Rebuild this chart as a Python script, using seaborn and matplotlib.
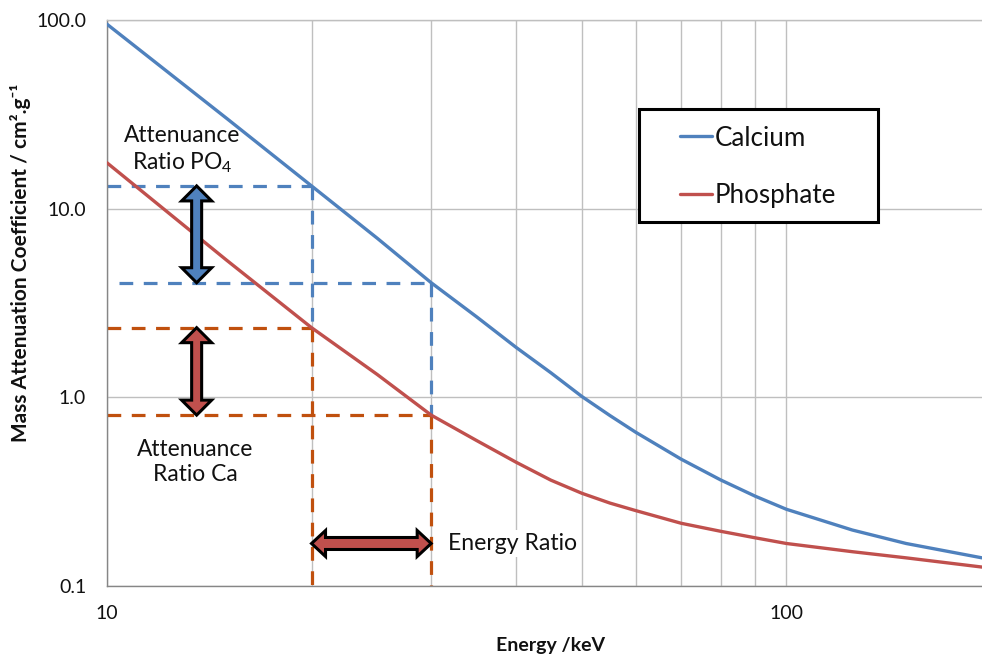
import numpy as np
import pandas as pd
import matplotlib
matplotlib.use("Agg")
import matplotlib.pyplot as plt
import seaborn as sns
from matplotlib.patches import Polygon, Rectangle
from matplotlib.transforms import IdentityTransform
from matplotlib.ticker import FixedLocator, FixedFormatter, NullLocator, NullFormatter

# ---------------- data ----------------
energy = [10, 15, 20, 25, 30, 35, 40, 45, 50, 55, 60, 70, 80, 90, 100, 125, 150, 194]
calcium = [95.0, 30.1, 13.2, 6.96, 4.05, 2.67, 1.84, 1.35, 1.01, 0.80, 0.653, 0.47, 0.365,
           0.299, 0.255, 0.198, 0.168, 0.141]
phosphate = [17.5, 5.33, 2.34, 1.32, 0.805, 0.59, 0.453, 0.364, 0.31, 0.275, 0.251, 0.215,
             0.195, 0.18, 0.168, 0.152, 0.141, 0.126]
series_names = ["Calcium", "Phosphate"]

e_low, e_high = 20, 30           # energies used for the ratio construction
y_ticks = [0.1, 1, 10, 100]
y_ticklabels = ["0.1", "1.0", "10.0", "100.0"]
x_ticks = [10, 100]
x_ticklabels = ["10", "100"]
x_minor = [20, 30, 40, 50, 60, 70, 80, 90]

# ---------------- style ----------------
sns.set_style("white")
plt.rcParams["font.family"] = ["Lato", "DejaVu Sans"]
plt.rcParams["mathtext.fontset"] = "custom"
plt.rcParams["mathtext.rm"] = "Lato"
plt.rcParams["mathtext.it"] = "Lato:italic"
plt.rcParams["mathtext.bf"] = "Lato:bold"

BLUE = "#4F81BD"
RED = "#C0504D"
RUST = "#C0500E"
GRID = "#BFBFBF"
AXIS = "#868686"
TXT = "#111111"

W, H = 982, 658
fig = plt.figure(figsize=(W / 100, H / 100), dpi=100)
ax_left, ax_right, ax_top, ax_bottom = 107, 982, 20, 586
ax = fig.add_axes([ax_left / W, 1 - ax_bottom / H, (ax_right - ax_left) / W, (ax_bottom - ax_top) / H])

df = pd.DataFrame({
    "Energy": energy * 2,
    "Value": calcium + phosphate,
    "Series": [series_names[0]] * len(energy) + [series_names[1]] * len(energy),
})

sns.lineplot(data=df, x="Energy", y="Value", hue="Series", palette=[BLUE, RED],
             linewidth=2.4, legend=False, ax=ax, zorder=3)

ax.set_xscale("log")
ax.set_yscale("log")
ax.set_xlim(10, 194)
ax.set_ylim(0.1, 100)

ax.yaxis.set_major_locator(FixedLocator(y_ticks))
ax.yaxis.set_major_formatter(FixedFormatter(y_ticklabels))
ax.yaxis.set_minor_locator(NullLocator())
ax.xaxis.set_major_locator(FixedLocator(x_ticks))
ax.xaxis.set_major_formatter(FixedFormatter(x_ticklabels))
ax.xaxis.set_minor_locator(FixedLocator(x_minor))
ax.xaxis.set_minor_formatter(NullFormatter())

ax.grid(axis="y", which="major", color=GRID, linewidth=1.0)
ax.grid(axis="x", which="both", color=GRID, linewidth=1.0)
ax.set_axisbelow(True)

for side in ["left", "bottom"]:
    ax.spines[side].set_color(AXIS)
    ax.spines[side].set_linewidth(1.0)
ax.spines["top"].set_color(GRID)
ax.spines["top"].set_linewidth(1.0)
ax.spines["right"].set_visible(False)

ax.tick_params(axis="both", which="major", direction="out", length=6, width=1.0,
               color=AXIS, labelsize=14, labelcolor=TXT)
ax.tick_params(axis="y", which="major", pad=9)
ax.tick_params(axis="x", which="major", pad=8)
ax.tick_params(axis="x", which="minor", length=0)

ax.set_xlabel("Energy /keV", fontsize=14, fontweight="bold", color=TXT)
ax.set_ylabel("Mass Attenuation Coefficient / cm².g⁻¹", fontsize=15, fontweight="bold", color=TXT)
ax.xaxis.set_label_coords((550 - ax_left) / (ax_right - ax_left), -(646 - ax_bottom) / (ax_bottom - ax_top))
ax.yaxis.set_label_coords(-(107 - 21) / (ax_right - ax_left), (ax_bottom - 263) / (ax_bottom - ax_top))
ax.xaxis.label.set_va("center")
ax.yaxis.label.set_va("center")

# ---------------- dashed construction lines ----------------
i_lo = energy.index(e_low)
i_hi = energy.index(e_high)
ca_lo, ca_hi = calcium[i_lo], calcium[i_hi]
ph_lo, ph_hi = phosphate[i_lo], phosphate[i_hi]
x0 = ax.get_xlim()[0]
y0 = ax.get_ylim()[0]
dash = dict(linewidth=2.3, linestyle=(0, (4.3, 3.3)), zorder=2)
ax.plot([x0, e_low], [ca_lo, ca_lo], color=BLUE, **dash)
ax.plot([10.4, e_high], [ca_hi, ca_hi], color=BLUE, **dash)
ax.plot([e_low, e_low], [ca_lo, ph_lo], color=BLUE, **dash)
ax.plot([e_high, e_high], [ca_hi, ph_hi], color=BLUE, **dash)
ax.plot([x0, e_low], [ph_lo, ph_lo], color=RUST, **dash)
ax.plot([x0, e_high], [ph_hi, ph_hi], color=RUST, **dash)
ax.plot([e_low, e_low], [ph_lo, y0], color=RUST, **dash)
ax.plot([e_high, e_high], [ph_hi, y0], color=RUST, **dash)

# ---------------- block double arrows ----------------
def double_arrow(p0, p1, shaft, head_w, head_len, fc):
    t = ax.transData
    a = np.array(t.transform(p0))
    b = np.array(t.transform(p1))
    d = b - a
    u = d / np.hypot(*d)
    n = np.array([-u[1], u[0]])
    s, h, hl = shaft / 2, head_w / 2, head_len
    pts = [a, a + u * hl + n * h, a + u * hl + n * s, b - u * hl + n * s,
           b - u * hl + n * h, b, b - u * hl - n * h, b - u * hl - n * s,
           a + u * hl - n * s, a + u * hl - n * h]
    poly = Polygon(pts, closed=True, facecolor=fc, edgecolor="black", linewidth=2.2,
                   joinstyle="miter", transform=IdentityTransform(), zorder=5, clip_on=False)
    ax.add_patch(poly)

arrow_x = 13.55
double_arrow((arrow_x, ca_lo), (arrow_x, ca_hi), 10, 30, 15, BLUE)
double_arrow((arrow_x, ph_lo), (arrow_x, ph_hi), 10, 30, 15, RED)
double_arrow((e_low, 0.168), (e_high, 0.168), 12, 26, 14, RED)

# ---------------- annotation text ----------------
ax.text(12.89, 20.5, "Attenuance\nRatio PO$_4$", ha="center", va="center", fontsize=16.4,
        linespacing=1.2, color=TXT, zorder=6)
ax.text(13.5, 0.455, "Attenuance\nRatio Ca", ha="center", va="center", fontsize=16.4,
        linespacing=1.2, color=TXT, zorder=6)
ax.text(31.8, 0.168, "Energy Ratio", ha="left", va="center", fontsize=16.6, color=TXT,
        zorder=6, bbox=dict(facecolor="white", edgecolor="none", pad=2))

# ---------------- legend ----------------
frame = Rectangle((639 / W, 1 - 222 / H), (878 - 639) / W, (222 - 109) / H,
                  transform=fig.transFigure, facecolor="white", edgecolor="black",
                  linewidth=2.2, zorder=7, clip_on=False)
ax.add_patch(frame)
lines = ax.get_lines()[:2]
leg = ax.legend(lines, series_names, loc="upper left",
                bbox_to_anchor=(680 / W, 1 - 125.5 / H), bbox_transform=fig.transFigure,
                frameon=False, fontsize=18.7, handlelength=1.23, handletextpad=0.1,
                labelspacing=1.27, borderpad=0, borderaxespad=0)
leg.set_zorder(8)
for t in leg.get_texts():
    t.set_color(TXT)

fig.savefig("out.png", dpi=100)
